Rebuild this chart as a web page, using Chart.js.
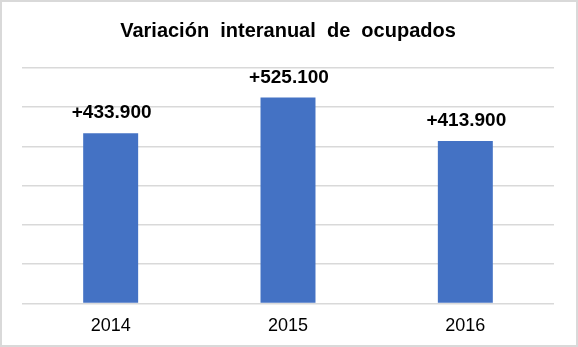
<!DOCTYPE html>
<html lang="es">
<head>
    <meta charset="UTF-8">
    <title>Variación interanual de ocupados</title>
    <script src="https://cdn.jsdelivr.net/npm/chart.js"></script>
    <style>
        html, body {
            margin: 0;
            padding: 0;
            background: #fff;
        }
        .frame {
            width: 578px;
            height: 347px;
            box-sizing: border-box;
            border: 2px solid #d9d9d9;
            background: #fff;
        }
    </style>
</head>
<body>
    <div class="frame">
        <canvas id="ocupados" width="574" height="343"></canvas>
    </div>

    <script>
        // Datos de la gráfica
        const years = ['2014', '2015', '2016'];
        const variation = [433900, 525100, 413900];
        const yTicks = [0, 100000, 200000, 300000, 400000, 500000, 600000];
        const chartTitle = 'Variación  interanual  de  ocupados';

        const FONT = '"Liberation Sans", Arial, sans-serif';

        // "+433.900" con punto de miles
        function formatValue(v) {
            const s = Math.abs(v).toString().replace(/\B(?=(\d{3})+(?!\d))/g, '.');
            return (v >= 0 ? '+' : '-') + s;
        }

        // Título centrado sobre el área de trazado
        const titleText = {
            id: 'titleText',
            afterDraw(chart) {
                const ctx = chart.ctx;
                const area = chart.chartArea;
                ctx.save();
                ctx.font = 'bold 20px ' + FONT;
                ctx.fillStyle = '#000';
                ctx.textAlign = 'center';
                ctx.textBaseline = 'middle';
                ctx.fillText(chartTitle, (area.left + area.right) / 2, 29);
                ctx.restore();
            }
        };

        // Etiquetas de valor encima de cada barra
        const valueLabels = {
            id: 'valueLabels',
            afterDatasetsDraw(chart) {
                const ctx = chart.ctx;
                const meta = chart.getDatasetMeta(0);
                ctx.save();
                ctx.font = 'bold 19px ' + FONT;
                ctx.fillStyle = '#000';
                ctx.textAlign = 'center';
                ctx.textBaseline = 'middle';
                meta.data.forEach((bar, i) => {
                    ctx.fillText(formatValue(variation[i]), bar.x + 1, bar.y - 20);
                });
                ctx.restore();
            }
        };

        new Chart(document.getElementById('ocupados'), {
            type: 'bar',
            data: {
                labels: years,
                datasets: [{
                    data: variation,
                    backgroundColor: '#4472c4',
                    barPercentage: 0.31,
                    categoryPercentage: 1
                }]
            },
            options: {
                responsive: false,
                animation: false,
                layout: {
                    padding: { left: 20, right: 22, top: 66, bottom: 4 }
                },
                plugins: {
                    legend: { display: false },
                    tooltip: { enabled: false },
                    title: { display: false }
                },
                scales: {
                    x: {
                        grid: { display: false },
                        border: { display: false },
                        ticks: {
                            color: '#000',
                            font: { family: FONT, size: 18 },
                            padding: 4
                        }
                    },
                    y: {
                        min: yTicks[0],
                        max: yTicks[yTicks.length - 1],
                        afterBuildTicks(scale) {
                            scale.ticks = yTicks.map(v => ({ value: v }));
                        },
                        afterFit(scale) {
                            scale.width = 0;
                        },
                        ticks: { display: false },
                        grid: { color: '#d9d9d9', lineWidth: 1.5, drawTicks: false },
                        border: { display: false }
                    }
                }
            },
            plugins: [valueLabels, titleText]
        });
    </script>
</body>
</html>
